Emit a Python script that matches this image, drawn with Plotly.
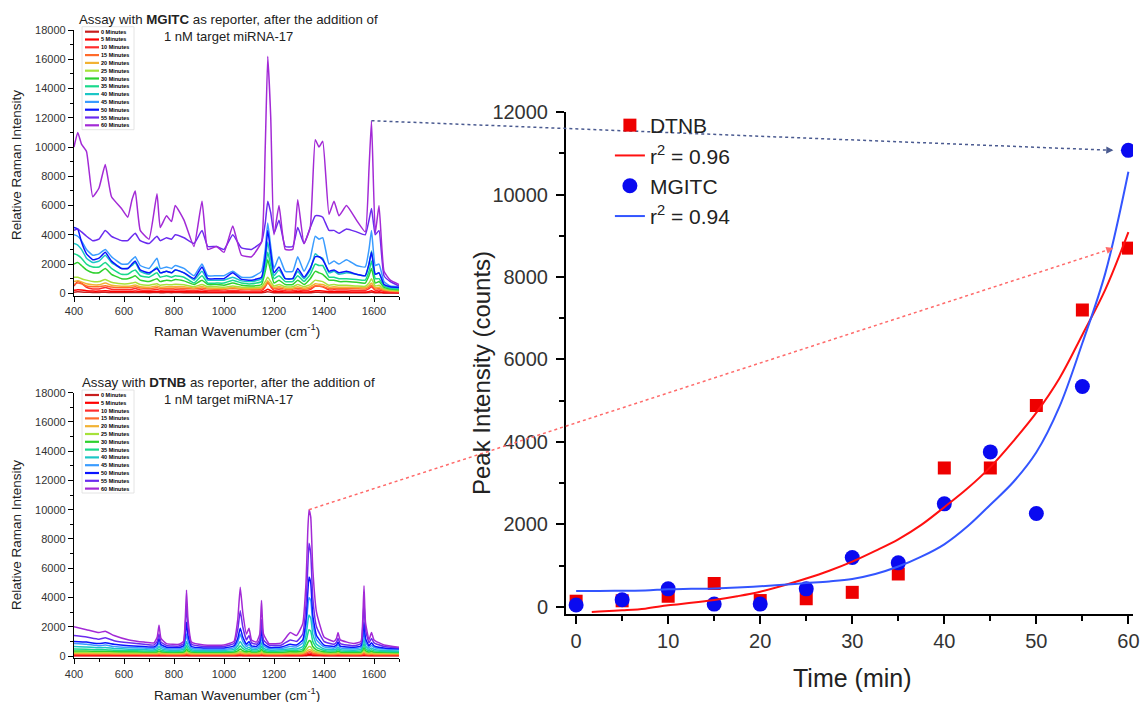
import plotly.graph_objects as go

W, H = 1140, 702

# ---------------- spectra data ----------------
spec_times = [0, 5, 10, 15, 20, 25, 30, 35, 40, 45, 50, 55, 60]
spec_labels = [f"{t} Minutes" for t in spec_times]
spec_colors = ["#C81E1E", "#FF0000", "#FF2D2D", "#FF6A2A", "#F2B233", "#A6E23A",
               "#2ED12E", "#19D98C", "#1CC6C6", "#3A9CFF", "#0A14FF", "#6A2BEF", "#A32AD6"]

wn_mgitc = [400, 415, 430, 450, 475, 500, 525, 550, 590, 615,
            632, 645, 665, 700, 732, 745, 770, 790, 805, 840,
            880, 912, 935, 970, 1000, 1035, 1070, 1110, 1150, 1165,
            1175, 1187, 1200, 1220, 1245, 1275, 1295, 1320, 1345, 1365,
            1380, 1395, 1420, 1440, 1460, 1490, 1530, 1565, 1580, 1590,
            1605, 1620, 1640, 1665, 1700]

mgitc_60 = [10000, 11000, 10200, 9700, 6600, 7200, 8800, 6600, 5800, 5200,
            6400, 7000, 4300, 3700, 6800, 4500, 5300, 4900, 6000, 5000,
            3200, 6300, 3000, 3200, 2800, 4600, 2600, 2500, 3500, 10000,
            16200, 12000, 4000, 6000, 3000, 3000, 6400, 3400, 4500, 10500,
            10000, 10400, 5400, 6300, 5300, 6000, 5000, 4200, 8500, 11800,
            4100, 6000, 1500, 900, 600]
mgitc_55 = [4300, 4400, 4200, 3900, 3600, 3700, 4300, 3900, 3600, 3600,
            3900, 4100, 3600, 3400, 3900, 3600, 3800, 3700, 4000, 3800,
            3400, 4300, 3200, 3200, 3000, 4000, 3100, 3000, 3500, 4800,
            6300, 5500, 4100, 5000, 3200, 3200, 4500, 3400, 4500, 5300,
            5300, 5200, 4300, 4300, 4100, 4400, 4200, 4000, 5000, 5800,
            4000, 4300, 1200, 800, 500]
mgitc_50 = [4500, 4400, 3500, 2700, 2300, 2400, 2800, 2200, 1700, 1700,
            2000, 2200, 1600, 1400, 1700, 1400, 1500, 1400, 1600, 1400,
            1000, 1800, 1000, 1000, 1000, 1400, 950, 900, 1100, 2500,
            4300, 2800, 1400, 1800, 1000, 1000, 1700, 1100, 1700, 2500,
            2500, 2300, 1500, 1600, 1400, 1500, 1300, 1200, 2000, 2800,
            1300, 1400, 600, 450, 400]
mgitc_45 = [4000, 3900, 3600, 3000, 2600, 2700, 3000, 2500, 2000, 2000,
            2300, 2500, 1900, 1700, 2400, 1700, 1800, 1700, 1900, 1700,
            1200, 2000, 1200, 1200, 1200, 1500, 1100, 1100, 1500, 3000,
            4800, 3200, 1700, 2500, 1500, 1500, 2500, 1500, 2400, 3900,
            3700, 3800, 2000, 2200, 2000, 2300, 1900, 1800, 3000, 4300,
            1900, 2000, 800, 500, 450]
mgitc_40 = [3400, 3300, 3000, 2400, 2100, 2200, 2600, 2100, 1700, 1700,
            1900, 2100, 1500, 1300, 1800, 1400, 1500, 1400, 1600, 1400,
            900, 1500, 900, 900, 900, 1100, 850, 800, 1000, 2200,
            3500, 2300, 1200, 1600, 1000, 1000, 1500, 1000, 1600, 2700,
            2500, 2400, 1400, 1500, 1300, 1400, 1300, 1200, 2000, 2900,
            1300, 1400, 600, 400, 350]
mgitc_35 = [2700, 2600, 2400, 2000, 1800, 1800, 2100, 1700, 1300, 1300,
            1500, 1600, 1200, 1100, 1400, 1100, 1200, 1100, 1200, 1100,
            700, 1200, 700, 700, 700, 900, 700, 650, 800, 1800,
            2800, 1900, 1000, 1200, 800, 800, 1200, 800, 1300, 2000,
            1900, 1900, 1100, 1100, 1000, 1000, 950, 900, 1500, 2200,
            1000, 1000, 500, 350, 300]
mgitc_30 = [2000, 2100, 1900, 1600, 1400, 1400, 1700, 1300, 1000, 1000,
            1100, 1200, 900, 800, 1000, 800, 900, 850, 950, 850,
            600, 900, 600, 600, 550, 700, 550, 500, 600, 1500,
            2300, 1500, 700, 900, 600, 600, 900, 600, 1000, 1500,
            1400, 1300, 900, 900, 800, 800, 750, 700, 1200, 1700,
            700, 800, 400, 300, 250]
mgitc_25 = [1100, 1100, 1000, 900, 800, 800, 950, 750, 650, 650,
            700, 750, 600, 550, 650, 550, 600, 580, 620, 580,
            450, 600, 450, 450, 420, 500, 420, 400, 450, 800,
            1100, 800, 500, 600, 450, 450, 600, 450, 600, 900,
            850, 800, 550, 600, 550, 550, 500, 480, 700, 1000,
            500, 550, 300, 220, 180]
mgitc_20 = [800, 850, 780, 650, 580, 580, 700, 550, 480, 480,
            520, 560, 450, 420, 500, 420, 450, 440, 470, 440,
            360, 460, 360, 350, 330, 400, 330, 320, 360, 600,
            850, 600, 400, 470, 350, 350, 450, 350, 450, 650,
            620, 600, 420, 450, 420, 420, 400, 380, 520, 700,
            380, 420, 250, 180, 150]
mgitc_15 = [600, 700, 650, 500, 450, 450, 520, 430, 380, 380,
            410, 440, 360, 330, 380, 330, 350, 340, 360, 340,
            290, 360, 290, 280, 270, 320, 270, 260, 290, 500,
            700, 500, 320, 370, 280, 280, 350, 280, 350, 500,
            480, 460, 330, 350, 330, 330, 310, 300, 420, 550,
            300, 330, 200, 150, 120]
mgitc_10 = [500, 800, 700, 400, 300, 300, 400, 280, 250, 250,
            280, 320, 230, 210, 260, 210, 230, 220, 240, 220,
            180, 240, 180, 170, 160, 200, 160, 150, 180, 450,
            800, 450, 200, 250, 170, 170, 230, 170, 250, 500,
            480, 450, 220, 240, 220, 220, 200, 190, 320, 450,
            200, 230, 120, 90, 70]
mgitc_05 = [200, 250, 230, 180, 150, 150, 180, 140, 130, 130,
            140, 150, 120, 110, 130, 110, 120, 115, 120, 115,
            100, 120, 100, 95, 90, 110, 90, 85, 95, 180,
            280, 180, 100, 120, 90, 90, 110, 90, 110, 180,
            170, 160, 105, 110, 100, 100, 95, 90, 130, 180,
            95, 100, 60, 50, 40]
mgitc_00 = [80, 100, 90, 70, 60, 60, 70, 55, 50, 50,
            55, 60, 50, 45, 50, 45, 48, 46, 48, 46,
            40, 48, 40, 38, 36, 42, 36, 35, 38, 70,
            110, 70, 40, 45, 36, 36, 42, 36, 42, 70,
            65, 60, 40, 42, 40, 40, 38, 36, 50, 70,
            36, 40, 25, 20, 15]

wn_dtnb = [400, 450, 500, 525, 560, 620, 680, 720, 733, 740,
           748, 770, 820, 838, 845, 850, 856, 870, 920, 1000,
           1040, 1055, 1065, 1075, 1090, 1100, 1110, 1130, 1143, 1150,
           1158, 1180, 1230, 1265, 1290, 1315, 1328, 1335, 1340, 1347,
           1355, 1370, 1400, 1440, 1450, 1456, 1465, 1520, 1548, 1555,
           1560, 1566, 1580, 1590, 1600, 1640, 1700]

dtnb_60 = [2000, 1800, 1600, 1700, 1400, 1100, 950, 900, 1300, 2100,
           1200, 850, 800, 1000, 2500, 4500, 2500, 950, 750, 750,
           1000, 2500, 4700, 3000, 1500, 1900, 1100, 950, 1500, 3800,
           1500, 850, 900, 1600, 1400, 2200, 5000, 8500, 10000, 9500,
           6000, 3000, 1300, 1000, 1200, 1600, 1100, 850, 1000, 2500,
           4800, 2300, 1100, 1600, 1100, 750, 600]
dtnb_55 = [1400, 1300, 1150, 1250, 1050, 900, 800, 750, 1000, 1500,
           950, 720, 680, 850, 2000, 3500, 2000, 800, 650, 650,
           850, 1800, 3100, 2000, 1100, 1400, 900, 800, 1100, 2500,
           1100, 750, 750, 1100, 1000, 1500, 3500, 6000, 7700, 7000,
           4000, 2000, 1000, 800, 950, 1200, 850, 700, 850, 2000,
           3700, 1800, 900, 1200, 900, 650, 550]
dtnb_50 = [1000, 950, 850, 900, 800, 700, 650, 620, 800, 1200,
           780, 600, 580, 700, 1400, 2300, 1400, 650, 550, 550,
           700, 1200, 1900, 1300, 800, 1000, 700, 650, 900, 1800,
           850, 600, 620, 800, 750, 1100, 2500, 4300, 5400, 5000,
           2800, 1400, 750, 650, 750, 950, 680, 600, 700, 1400,
           2300, 1200, 700, 900, 700, 550, 500]
dtnb_45 = [850, 800, 700, 750, 650, 580, 540, 520, 650, 900,
           640, 500, 480, 560, 1000, 1500, 1000, 540, 460, 460,
           580, 950, 1500, 1000, 650, 800, 580, 540, 700, 1300,
           700, 500, 520, 650, 620, 900, 2000, 3300, 4000, 3800,
           2200, 1100, 620, 540, 620, 780, 560, 500, 580, 1100,
           1700, 950, 580, 720, 580, 480, 450]
dtnb_40 = [650, 620, 560, 580, 520, 470, 440, 420, 500, 650,
           500, 410, 400, 450, 700, 1000, 700, 430, 380, 380,
           450, 700, 1000, 720, 500, 600, 460, 440, 540, 900,
           540, 410, 420, 500, 480, 650, 1400, 2300, 2800, 2600,
           1500, 800, 480, 430, 480, 580, 440, 400, 450, 800,
           1200, 700, 450, 550, 450, 380, 350]
dtnb_35 = [480, 460, 420, 430, 400, 370, 350, 340, 380, 480,
           380, 330, 320, 350, 500, 700, 500, 340, 310, 310,
           350, 500, 700, 520, 380, 450, 360, 350, 410, 650,
           410, 330, 340, 390, 380, 480, 950, 1500, 1800, 1700,
           1000, 580, 380, 340, 370, 440, 350, 320, 350, 580,
           850, 520, 350, 420, 350, 310, 290]
dtnb_30 = [350, 340, 320, 330, 310, 290, 280, 270, 290, 350,
           290, 260, 255, 270, 350, 480, 350, 265, 250, 250,
           270, 350, 480, 360, 290, 330, 280, 275, 310, 450,
           310, 260, 265, 300, 290, 350, 650, 900, 1050, 1000,
           650, 420, 290, 270, 290, 330, 275, 255, 270, 400,
           580, 380, 270, 320, 270, 250, 240]
dtnb_25 = [260, 255, 245, 250, 240, 230, 225, 220, 230, 260,
           230, 215, 210, 220, 260, 330, 260, 215, 205, 205,
           215, 260, 330, 265, 225, 245, 220, 218, 235, 310,
           235, 210, 212, 230, 225, 260, 420, 560, 650, 620,
           420, 300, 225, 215, 225, 250, 218, 205, 215, 290,
           400, 280, 215, 240, 215, 200, 195]
dtnb_20 = [190, 185, 180, 182, 178, 172, 168, 165, 170, 190,
           170, 162, 160, 165, 190, 230, 190, 162, 158, 158,
           162, 190, 230, 192, 170, 180, 166, 165, 175, 215,
           175, 160, 161, 172, 170, 190, 290, 380, 430, 410,
           290, 215, 170, 162, 168, 185, 164, 158, 162, 210,
           280, 205, 162, 178, 162, 152, 148]
dtnb_15 = [130, 128, 124, 126, 122, 118, 115, 113, 116, 130,
           116, 111, 110, 113, 130, 160, 130, 111, 108, 108,
           111, 130, 160, 132, 117, 124, 114, 113, 120, 150,
           120, 110, 111, 118, 116, 130, 200, 260, 300, 285,
           200, 150, 117, 111, 115, 127, 112, 108, 111, 145,
           195, 142, 111, 122, 111, 104, 100]
dtnb_10 = [85, 84, 82, 83, 80, 78, 76, 75, 77, 85,
           77, 74, 73, 75, 85, 105, 85, 74, 72, 72,
           74, 85, 105, 86, 77, 82, 76, 75, 79, 98,
           79, 73, 74, 78, 77, 86, 130, 170, 200, 190,
           130, 100, 78, 74, 76, 84, 75, 72, 74, 95,
           128, 93, 74, 81, 74, 69, 67]
dtnb_05 = [42, 42, 41, 41, 40, 39, 38, 37, 38, 42,
           38, 37, 36, 37, 42, 52, 42, 37, 36, 36,
           37, 42, 52, 43, 38, 41, 38, 37, 39, 49,
           39, 36, 37, 39, 38, 43, 65, 85, 100, 95,
           65, 50, 39, 37, 38, 42, 37, 36, 37, 47,
           64, 46, 37, 40, 37, 34, 33]
dtnb_00 = [15, 15, 14, 14, 14, 13, 13, 13, 13, 15,
           13, 13, 12, 13, 15, 18, 15, 13, 12, 12,
           13, 15, 18, 15, 13, 14, 13, 13, 14, 17,
           14, 12, 13, 13, 13, 15, 22, 28, 33, 31,
           22, 17, 13, 13, 13, 14, 13, 12, 13, 16,
           21, 16, 13, 14, 13, 12, 11]

mgitc_spectra = [mgitc_00, mgitc_05, mgitc_10, mgitc_15, mgitc_20, mgitc_25, mgitc_30,
                 mgitc_35, mgitc_40, mgitc_45, mgitc_50, mgitc_55, mgitc_60]
dtnb_spectra = [dtnb_00, dtnb_05, dtnb_10, dtnb_15, dtnb_20, dtnb_25, dtnb_30,
                dtnb_35, dtnb_40, dtnb_45, dtnb_50, dtnb_55, dtnb_60]
for s in mgitc_spectra:
    assert len(s) == len(wn_mgitc), len(s)
for s in dtnb_spectra:
    assert len(s) == len(wn_dtnb), len(s)

# ---------------- kinetics data ----------------
time_min = [0, 5, 10, 15, 20, 25, 30, 35, 40, 45, 50, 55, 60]
dtnb_peak = [140, 150, 260, 570, 156, 200, 355, 800, 3370, 3370, 4885, 7200, 8700]
mgitc_peak = [50, 175, 440, 70, 70, 440, 1200, 1070, 2500, 3760, 2265, 5345, 11070]

dtnb_fit_time = [1.7, 2.5, 5, 7.5, 10, 12.5, 15, 17.5, 20, 22.5, 25, 27.5, 30,
                 32.5, 35, 37.5, 40, 42.5, 45, 47.5, 50, 52.5, 55, 57.5, 60]
dtnb_fit = [-120, -110, -80, -40, 40, 100, 170, 260, 370, 520, 690, 880, 1100,
            1360, 1640, 1990, 2420, 2870, 3390, 4020, 4710, 5540, 6600, 7700, 9090]
mgitc_fit_time = [0, 2.5, 5, 7.5, 10, 12.5, 15, 17.5, 20, 22.5, 25, 27.5, 30,
                  32.5, 35, 37.5, 40, 42.5, 45, 47.5, 50, 52.5, 55, 57.5, 60]
mgitc_fit = [390, 390, 395, 400, 430, 440, 450, 470, 500, 540, 580, 620, 680,
             800, 980, 1220, 1520, 1950, 2480, 3030, 3750, 4850, 6400, 8100, 10550]

# ---------------- layout geometry ----------------
FONT = "Arial, Liberation Sans, sans-serif"
xd_spec = [74 / W, 399 / W]
yd_top = [1 - 295.5 / H, 1 - 30 / H]
yd_bot = [1 - 658.2 / H, 1 - 392.7 / H]
xd_kin = [566 / W, 1133 / W]
yd_kin = [1 - 614 / H, 1 - 112 / H]
spec_xr = [400, 1700]
spec_yr = [-150, 18000]
kin_xr = [-1.1, 60.5]
kin_yr = [-170, 12000]


def to_px(xv, yv, xd, xr, yd, yr):
    fx = xd[0] + (xv - xr[0]) / (xr[1] - xr[0]) * (xd[1] - xd[0])
    fy = yd[0] + (yv - yr[0]) / (yr[1] - yr[0]) * (yd[1] - yd[0])
    return fx * W, (1 - fy) * H


fig = go.Figure()

for i in range(len(spec_times)):
    fig.add_trace(go.Scatter(x=wn_mgitc, y=mgitc_spectra[i], mode="lines",
                             line=dict(color=spec_colors[i], width=1.5, shape="spline", smoothing=0.4),
                             xaxis="x", yaxis="y", showlegend=False, hoverinfo="skip"))
for i in range(len(spec_times)):
    fig.add_trace(go.Scatter(x=wn_dtnb, y=dtnb_spectra[i], mode="lines",
                             line=dict(color=spec_colors[i], width=1.5, shape="spline", smoothing=0.4),
                             xaxis="x2", yaxis="y2", showlegend=False, hoverinfo="skip"))

fig.add_trace(go.Scatter(x=time_min, y=dtnb_peak, mode="markers", name="DTNB",
                         marker=dict(symbol="square", size=13, color="#EE0000"),
                         xaxis="x3", yaxis="y3", legendrank=1))
fig.add_trace(go.Scatter(x=time_min, y=mgitc_peak, mode="markers", name="MGITC",
                         marker=dict(symbol="circle", size=15, color="#0A0AF0"),
                         xaxis="x3", yaxis="y3", legendrank=3))
fig.add_trace(go.Scatter(x=dtnb_fit_time, y=dtnb_fit, mode="lines", name="r<sup>2</sup> = 0.96",
                         line=dict(color="#FF1010", width=2), line_shape="spline",
                         xaxis="x3", yaxis="y3", legendrank=2))
fig.add_trace(go.Scatter(x=mgitc_fit_time, y=mgitc_fit, mode="lines", name="r<sup>2</sup> = 0.94",
                         line=dict(color="#3355FF", width=2), line_shape="spline",
                         xaxis="x3", yaxis="y3", legendrank=4))

base_axis = dict(showline=True, linecolor="black", linewidth=1.3, ticks="outside",
                 ticklen=5, tickwidth=1.2, tickcolor="black", showgrid=False,
                 zeroline=False, automargin=False,
                 tickfont=dict(size=11, color="#333", family=FONT))

spec_x = dict(base_axis, range=spec_xr, tickvals=[400, 600, 800, 1000, 1200, 1400, 1600],
              minor=dict(ticks="outside", ticklen=3, dtick=100, tick0=400, tickcolor="black"))
spec_y = dict(base_axis, range=spec_yr, dtick=2000, tick0=0, tickformat="d",
              minor=dict(ticks="outside", ticklen=3, dtick=1000, tick0=0, tickcolor="black"))

kin_axis = dict(showline=True, linecolor="black", linewidth=2, ticks="outside",
                ticklen=8, tickwidth=2, tickcolor="black", showgrid=False, zeroline=False,
                automargin=False, tickfont=dict(size=20, color="#333", family=FONT))

fig.update_layout(
    width=W, height=H, margin=dict(l=0, r=0, t=0, b=0, autoexpand=False),
    paper_bgcolor="white", plot_bgcolor="white",
    font=dict(family=FONT, color="#222"),
    xaxis=dict(spec_x, domain=xd_spec, anchor="y"),
    yaxis=dict(spec_y, domain=yd_top, anchor="x"),
    xaxis2=dict(spec_x, domain=xd_spec, anchor="y2"),
    yaxis2=dict(spec_y, domain=yd_bot, anchor="x2"),
    xaxis3=dict(kin_axis, domain=xd_kin, anchor="y3", range=kin_xr, dtick=10, tick0=0,
                minor=dict(ticks="outside", ticklen=5, dtick=5, tick0=0, tickcolor="black")),
    yaxis3=dict(kin_axis, domain=yd_kin, anchor="x3", range=kin_yr, dtick=2000, tick0=0,
                tickformat="d", ticklabelstandoff=4,
                minor=dict(ticks="outside", ticklen=5, dtick=1000, tick0=0, tickcolor="black")),
    legend=dict(x=0.535, y=1 - 105 / H, xanchor="left", yanchor="top",
                font=dict(size=21, color="#222", family=FONT),
                bgcolor="rgba(0,0,0,0)", tracegroupgap=0),
    hovermode=False,
)

annotations = []
shapes = []


def pa(x, y, text, size, **kw):
    d = dict(x=x / W, y=1 - y / H, xref="paper", yref="paper", text=text, showarrow=False,
             xanchor="center", yanchor="middle",
             font=dict(size=size, color=kw.pop("color", "#222"), family=FONT))
    d.update(kw)
    annotations.append(d)


# titles of spectra
for name, y1 in (("MGITC", 19), ("DTNB", 382)):
    pa(228, y1, f"Assay with <b>{name}</b> as reporter, after the addition of", 13.3)
    pa(228, y1 + 17, "1 nM target miRNA-17", 13)
# axis titles spectra
for yc, xt in ((165, 330), (535, 694)):
    pa(16, yc, "Relative Raman Intensity", 13.5, textangle=-90)
    pa(237, xt, "Raman Wavenumber (cm<sup>-1</sup>)", 13.5)
# axis titles kinetics
pa(481, 373, "Peak Intensity (counts)", 24, textangle=-90)
pa(852, 678, "Time (min)", 25)

# mini legends for spectra
for top in (31.7, 395.0):
    shapes.append(dict(type="rect", xref="paper", yref="paper",
                       x0=82 / W, x1=134 / W, y0=1 - (top + 98) / H, y1=1 - (top - 5) / H,
                       line=dict(color="#DDDDDD", width=0.8), fillcolor="white", layer="above"))
    for i, lab in enumerate(spec_labels):
        yy = top + i * 7.8
        shapes.append(dict(type="line", xref="paper", yref="paper",
                           x0=85 / W, x1=99 / W, y0=1 - yy / H, y1=1 - yy / H,
                           line=dict(color=spec_colors[i], width=2.2), layer="above"))
        annotations.append(dict(x=100 / W, y=1 - yy / H, xref="paper", yref="paper",
                                text=f"<b>{lab}</b>", showarrow=False,
                                xanchor="left", yanchor="middle", borderpad=0,
                                font=dict(size=5.5, color="black", family=FONT)))

# dotted connectors with arrowheads
i_m = mgitc_spectra[-1].index(max(mgitc_spectra[-1][40:]))
i_d = dtnb_spectra[-1].index(max(dtnb_spectra[-1]))
conn = [
    (to_px(wn_mgitc[i_m], mgitc_spectra[-1][i_m], xd_spec, spec_xr, yd_top, spec_yr),
     to_px(time_min[-1], mgitc_peak[-1], xd_kin, kin_xr, yd_kin, kin_yr), "#4A5A90"),
    (to_px(wn_dtnb[i_d], dtnb_spectra[-1][i_d], xd_spec, spec_xr, yd_bot, spec_yr),
     to_px(time_min[-1], dtnb_peak[-1], xd_kin, kin_xr, yd_kin, kin_yr), "#FF6A6A"),
]
for (sx, sy), (ex, ey), col in conn:
    ex -= 15
    shapes.append(dict(type="line", xref="paper", yref="paper",
                       x0=sx / W, y0=1 - sy / H, x1=ex / W, y1=1 - ey / H,
                       line=dict(color=col, width=1.5, dash="dot"), layer="above"))
    L = ((sx - ex) ** 2 + (sy - ey) ** 2) ** 0.5
    annotations.append(dict(x=ex / W, y=1 - ey / H, xref="paper", yref="paper", text="",
                            showarrow=True, arrowhead=2, arrowsize=1.1, arrowwidth=1.3,
                            arrowcolor=col, ax=(sx - ex) / L * 8, ay=(sy - ey) / L * 8,
                            axref="pixel", ayref="pixel"))

fig.update_layout(annotations=annotations, shapes=shapes)
fig.write_html("out.html", config={"displayModeBar": False},
               post_script="document.body.style.margin='0';document.body.style.padding='0';")
